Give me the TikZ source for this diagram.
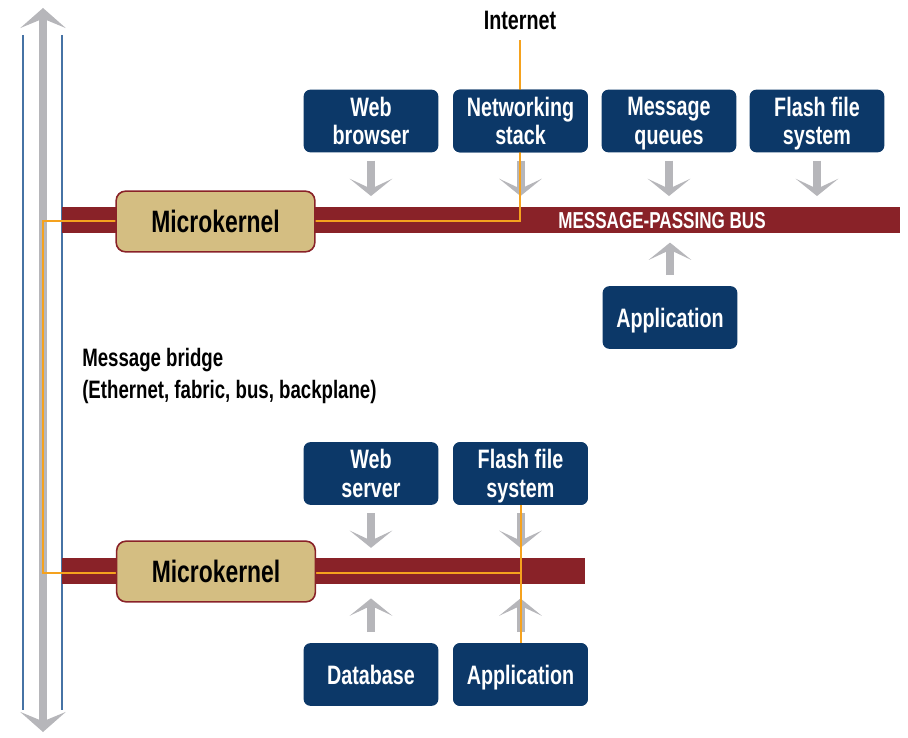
\documentclass[tikz,border=0pt]{standalone}
\usepackage{fontspec}
\setmainfont{Liberation Sans}[FakeStretch=0.74]
\usetikzlibrary{arrows.meta}
\definecolor{navy}{RGB}{12,56,104}
\definecolor{busred}{RGB}{137,34,40}
\definecolor{kerntan}{RGB}{212,190,130}
\definecolor{orng}{RGB}{245,162,30}
\definecolor{garrow}{RGB}{182,182,186}
\definecolor{bline}{RGB}{70,115,165}
\begin{document}
\begin{tikzpicture}[x=0.75pt,y=-0.75pt,
  box/.style={fill=navy, rounded corners=5pt, text=white, font=\bfseries\fontsize{20}{21.5}\selectfont, align=center, minimum width=101pt, minimum height=47pt, inner sep=0pt, text depth=0pt},
  kernel/.style={fill=kerntan, draw=busred, line width=1.2pt, rounded corners=7pt, font=\bfseries\fontsize{23.2}{25}\selectfont, minimum width=149pt, minimum height=45.5pt, inner sep=0pt, text depth=0pt},
  bus/.style={fill=busred, draw=none, inner sep=0pt, minimum height=19.5pt, anchor=west},
  feed/.style={draw=garrow, line width=6pt, -{Stealth[length=13pt,width=32pt,inset=7.5pt]}},
  bridge/.style={draw=garrow, line width=6pt, {Stealth[length=15pt,width=34pt,inset=7pt]}-{Stealth[length=15pt,width=34pt,inset=7pt]}},
  link/.style={draw=orng, line width=1.6pt},
  rail/.style={draw=bline, line width=1.6pt},
  plain/.style={font=\bfseries\fontsize{18.9}{24}\selectfont, inner sep=0pt}
]
\useasboundingbox (0,0) rectangle (908,738);

% rails of the message bridge
\coordinate (r1t) at (23,35);  \coordinate (r1b) at (23,710);
\coordinate (r2t) at (62,35);  \coordinate (r2b) at (62,710);
\draw[rail] (r1t) -- (r1b);
\draw[rail] (r2t) -- (r2b);
\coordinate (bt) at (43,8); \coordinate (bb) at (43,732);
\draw[bridge] (bt) -- (bb);

% buses
\node[bus, minimum width=628.5pt] (bus1) at (62,220) {};
\node[bus, minimum width=392.25pt] (bus2) at (62,570.5) {};

% boxes
\node[box] (wb)  at (371,121) {Web\\browser};
\node[box] (ns)  at (520.5,121) {Networking\\stack};
\node[box] (mq)  at (669,121) {Message\\queues};
\node[box] (ffs) at (817,121) {Flash file\\system};
\node[box] (app) at (670,317.5) {Application};
\node[box] (ws)  at (371,473.5) {Web\\server};
\node[box] (ffs2) at (520.5,473.5) {Flash file\\system};
\node[box] (db)  at (371,674.5) {Database};
\node[box] (app2) at (520.5,674.5) {Application};

% gray feed arrows
\foreach \b in {wb,ns,mq,ffs}
  \draw[feed, shorten <=6pt, shorten >=8pt] (\b.south) -- (\b.south |- bus1.north);
\draw[feed, shorten <=8pt, shorten >=7pt] (app.north) -- (app.north |- bus1.south);
\foreach \b in {ws,ffs2}
  \draw[feed, shorten <=6pt, shorten >=7pt] (\b.south) -- (\b.south |- bus2.north);
\foreach \b in {db,app2}
  \draw[feed, shorten <=8pt, shorten >=11pt] (\b.north) -- (\b.north |- bus2.south);

% Internet and orange links
\node[plain, font=\bfseries\fontsize{20}{22}\selectfont] (inet) at (520,20) {Internet};
\coordinate (c1) at (521,221);
\coordinate (c2) at (43,221);
\coordinate (c3) at (43,573);
\coordinate (c4) at (521,573);
\draw[link, shorten <=8pt] (inet.south) -- (inet.south |- c1) -- (c2) -- (c3) -- (c4);
\draw[link] (ffs2.south -| c4) -- (app2.north -| c4);

% redraw boxes over orange lines
\node[box] at (ns) {Networking\\stack};
\node[box] at (ffs2) {Flash file\\system};
\node[box] at (app2) {Application};

% microkernels
\node[kernel] (mk1) at (215.5,221.5) {Microkernel};
\node[kernel] (mk2) at (216,571.5) {Microkernel};

% labels
\node[plain, text=white, font=\bfseries\fontsize{17.3}{19}\selectfont, text depth=0pt] (buslabel) at (662,220) {MESSAGE-PASSING BUS};
\node[plain, anchor=north west, align=left] (mb) at (82,348) {Message bridge\\(Ethernet, fabric, bus, backplane)};
\end{tikzpicture}
\end{document}
